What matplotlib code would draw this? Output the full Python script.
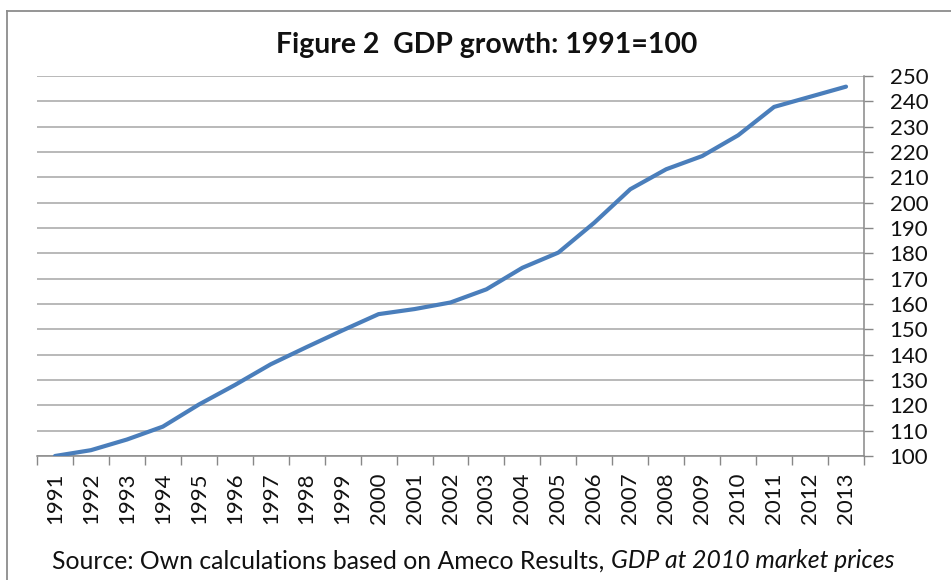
import matplotlib
matplotlib.use("Agg")
import matplotlib.pyplot as plt
from matplotlib.lines import Line2D

years = [str(y) for y in range(1991, 2014)]
gdp_index = [100, 102.3, 106.5, 111.6, 120.3, 128.0, 136.2, 143.0, 149.6, 156.0,
             158.0, 160.6, 165.8, 174.3, 180.3, 192.1, 205.3, 213.2, 218.4, 226.6,
             237.8, 241.8, 245.8]
y_ticks = list(range(100, 251, 10))

title = "Figure 2  GDP growth: 1991=100"
source_plain = "Source: Own calculations based on Ameco Results, "
source_italic = "GDP at 2010 market prices"

FONT = "Lato"
plt.rcParams['font.family'] = [FONT, 'DejaVu Sans']

W, H = 951, 580
fig = plt.figure(figsize=(W / 100, H / 100), dpi=100)
fig.patch.set_facecolor("white")

left, right, bottom, top = 37, 864, 456, 76
ax = fig.add_axes([left / W, 1 - bottom / H, (right - left) / W, (bottom - top) / H])

x = list(range(len(years)))
ax.plot(x, gdp_index, color="#4A7EBB", lw=3.0, solid_joinstyle="round",
        solid_capstyle="round", zorder=3)

ax.set_xlim(-0.5, len(years) - 0.5)
ax.set_ylim(100, 250)

ax.yaxis.tick_right()
ax.set_yticks(y_ticks)
ax.set_yticklabels([str(v) for v in y_ticks])
ax.tick_params(axis="y", which="major", direction="out", length=6.5, width=1.0,
               color="#888888", pad=12, labelsize=16, labelcolor="#111111")
ax.grid(axis="y", color="#A6A6A6", lw=1.1)
ax.set_axisbelow(True)

ax.set_xticks(x)
ax.set_xticklabels(years, rotation=90, va="top", ha="center")
ax.tick_params(axis="x", which="major", length=0, pad=12, labelsize=16,
               labelcolor="#111111")
ax.set_xticks([i - 0.5 for i in range(len(years) + 1)], minor=True)
ax.tick_params(axis="x", which="minor", direction="out", length=6.5, width=1.0,
               color="#888888")

for s in ["left", "top"]:
    ax.spines[s].set_visible(False)
ax.spines["bottom"].set_color("#888888")
ax.spines["bottom"].set_linewidth(1.1)
ax.spines["right"].set_color("#888888")
ax.spines["right"].set_linewidth(1.1)

# title
fig.text(487 / W, 1 - 45 / H, title, ha="center", va="center",
         fontsize=20.4, fontweight="bold", color="#111111")

# source line (plain + italic)
t1 = fig.text(52 / W, 1 - 561 / H, source_plain, ha="left", va="center",
              fontsize=17.8, color="#111111")
fig.canvas.draw()
bb = t1.get_window_extent()
fig.text(bb.x1 / W, 1 - 561 / H, source_italic, ha="left", va="center",
         fontsize=17.8, style="italic", color="#111111")

# chart-area border (left and top visible)
fig.add_artist(Line2D([7 / W, 7 / W], [1 - 11 / H, 0], transform=fig.transFigure,
                      color="#8C8C8C", lw=1.3))
fig.add_artist(Line2D([7 / W, 1], [1 - 11 / H, 1 - 11 / H], transform=fig.transFigure,
                      color="#8C8C8C", lw=1.3))

fig.savefig("out.png", dpi=100)
